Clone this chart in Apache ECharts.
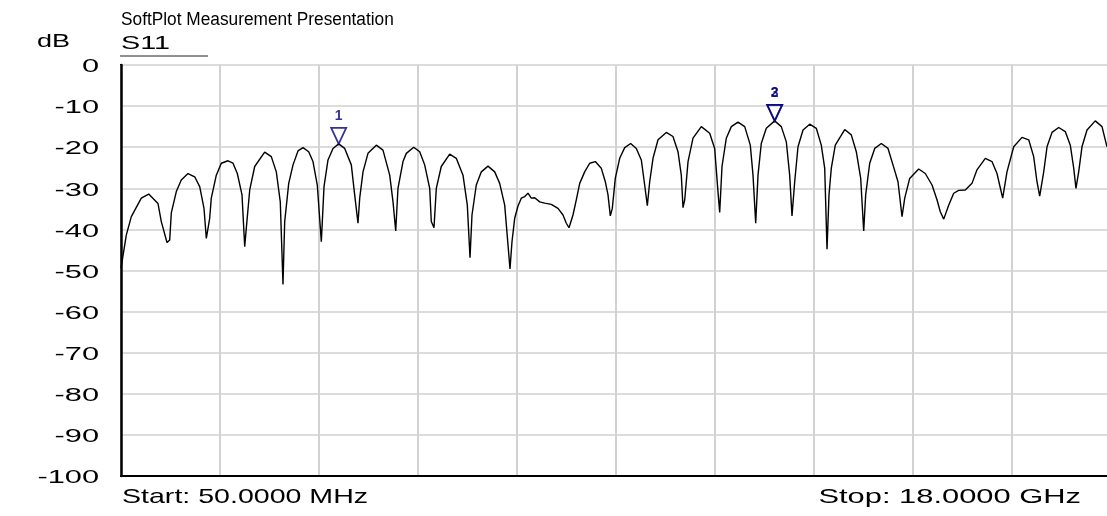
<!DOCTYPE html>
<html>
<head>
<meta charset="utf-8">
<title>S11</title>
<script src="https://cdn.jsdelivr.net/npm/echarts@6/dist/echarts.min.js"></script>
<style>
  html, body { margin: 0; padding: 0; background: #fff; }
  #main { width: 1107px; height: 516px; }
</style>
</head>
<body>
<div id="main"></div>
<script>
// sweep 50 MHz .. 18 GHz
var freqGHz = [
    0.050, 0.146, 0.237, 0.418, 0.552, 0.721, 0.781, 0.884, 0.933, 0.962,
    1.053, 1.143, 1.265, 1.386, 1.477, 1.555, 1.597, 1.658, 1.687, 1.778,
    1.869, 1.990, 2.081, 2.159, 2.244, 2.293, 2.322, 2.384, 2.474, 2.655,
    2.775, 2.866, 2.938, 2.987, 3.018, 3.091, 3.169, 3.259, 3.350, 3.453,
    3.531, 3.609, 3.682, 3.731, 3.803, 3.894, 3.997, 4.106, 4.226, 4.287,
    4.347, 4.378, 4.438, 4.528, 4.679, 4.800, 4.922, 4.982, 5.031, 5.072,
    5.163, 5.223, 5.357, 5.466, 5.556, 5.647, 5.676, 5.725, 5.767, 5.857,
    6.010, 6.129, 6.251, 6.329, 6.378, 6.414, 6.492, 6.583, 6.704, 6.826,
    6.916, 7.007, 7.103, 7.139, 7.188, 7.248, 7.308, 7.370, 7.429, 7.489,
    7.551, 7.642, 7.732, 7.852, 7.973, 8.064, 8.124, 8.173, 8.245, 8.305,
    8.367, 8.457, 8.548, 8.650, 8.758, 8.831, 8.880, 8.922, 8.958, 9.012,
    9.092, 9.183, 9.291, 9.393, 9.484, 9.545, 9.593, 9.636, 9.696, 9.787,
    9.937, 10.058, 10.149, 10.209, 10.240, 10.271, 10.331, 10.421, 10.572, 10.724,
    10.814, 10.874, 10.905, 10.947, 11.025, 11.116, 11.237, 11.359, 11.460, 11.509,
    11.558, 11.600, 11.659, 11.750, 11.902, 12.022, 12.113, 12.174, 12.216, 12.265,
    12.325, 12.416, 12.537, 12.657, 12.747, 12.809, 12.851, 12.887, 12.929, 13.001,
    13.172, 13.291, 13.382, 13.462, 13.516, 13.552, 13.625, 13.716, 13.835, 13.957,
    14.047, 14.138, 14.211, 14.260, 14.350, 14.513, 14.633, 14.755, 14.845, 14.905,
    14.967, 15.057, 15.148, 15.238, 15.358, 15.480, 15.570, 15.721, 15.842, 15.933,
    16.036, 16.114, 16.236, 16.386, 16.508, 16.598, 16.658, 16.707, 16.780, 16.840,
    16.930, 17.052, 17.171, 17.262, 17.324, 17.365, 17.414, 17.474, 17.565, 17.715,
    17.837, 17.927
];
var s11dB = [
    -49.4, -41.4, -36.9, -32.4, -31.4, -33.7, -38.1, -43.2, -42.6, -36.0,
    -30.8, -28.0, -26.4, -27.2, -29.6, -34.9, -42.2, -37.3, -32.4, -26.8,
    -23.9, -23.3, -23.9, -26.4, -31.6, -44.2, -39.7, -30.4, -24.7, -21.2,
    -22.3, -26.0, -33.3, -53.4, -38.1, -28.8, -24.3, -20.9, -20.1, -21.1,
    -23.5, -29.2, -43.0, -29.6, -23.1, -20.3, -19.2, -20.3, -24.3, -31.6,
    -38.5, -32.4, -26.0, -21.5, -19.5, -20.7, -26.8, -33.3, -40.4, -30.0,
    -23.5, -21.5, -20.0, -21.1, -24.3, -30.0, -38.1, -39.6, -30.0, -24.7,
    -21.7, -22.7, -26.8, -34.1, -46.9, -36.5, -29.2, -26.0, -24.6, -26.0,
    -28.8, -34.1, -49.6, -43.0, -37.3, -34.3, -32.4, -32.0, -31.2, -32.4,
    -32.3, -33.3, -33.6, -33.9, -34.9, -36.5, -38.5, -39.6, -36.5, -32.8,
    -28.8, -26.0, -23.9, -23.5, -25.1, -28.4, -31.6, -36.7, -34.9, -27.6,
    -22.7, -20.1, -19.1, -20.3, -23.1, -29.2, -34.2, -28.4, -22.7, -18.2,
    -16.4, -17.4, -21.1, -26.8, -34.7, -32.8, -23.5, -17.8, -15.0, -16.6,
    -20.3, -30.8, -35.9, -24.7, -17.8, -15.0, -13.9, -15.0, -19.5, -26.8,
    -38.5, -26.8, -19.1, -15.4, -13.6, -15.0, -18.7, -26.8, -36.7, -28.4,
    -19.9, -15.8, -14.4, -15.4, -19.5, -25.1, -44.8, -31.6, -25.1, -19.5,
    -15.7, -17.0, -21.1, -27.6, -40.4, -31.6, -23.9, -20.3, -19.1, -20.3,
    -24.3, -28.4, -36.9, -32.4, -27.6, -25.3, -26.4, -29.2, -32.8, -35.7,
    -37.5, -34.1, -31.2, -30.5, -30.4, -28.8, -25.5, -22.7, -23.5, -26.4,
    -32.4, -26.0, -19.9, -17.6, -18.2, -22.3, -28.4, -31.9, -26.0, -19.9,
    -16.4, -15.2, -16.2, -19.5, -25.1, -30.0, -26.0, -19.9, -15.8, -13.6,
    -15.0, -19.9
];
var markerNames = ['1', '2', '3'];
var markerFreq = [3.997, 11.902, 11.902];
var markerDb = [-19.2, -13.6, -13.6];
var yTicks = [0, -10, -20, -30, -40, -50, -60, -70, -80, -90, -100];

var startLabel = 'Start: 50.0000 MHz';
var stopLabel = 'Stop: 18.0000 GHz';

var FONT = '"Liberation Sans", Arial, sans-serif';
var NAVY = '#00007a';

var chart = echarts.init(document.getElementById('main'), null, {renderer: 'canvas'});

var trace = freqGHz.map(function(f, i) { return [f, s11dB[i]]; });
var markers = markerFreq.map(function(f, i) { return {name: markerNames[i], value: [f, markerDb[i]]}; });

chart.setOption({
    animation: false,
    backgroundColor: '#fff',
    grid: {
        left: 121, top: 65, width: 990, bottom: 40,
        outerBoundsMode: 'none',
        containLabel: false,
        show: true,
        borderColor: '#000',
        borderWidth: 2,
        backgroundColor: 'transparent'
    },
    xAxis: {
        type: 'value',
        min: 0.05,
        max: 18,
        interval: 1.795,
        axisLine: {show: true, onZero: false, lineStyle: {color: '#000', width: 2}},
        axisTick: {show: false},
        axisLabel: {show: false},
        splitLine: {lineStyle: {color: '#d2d2d2', width: 2}}
    },
    yAxis: {
        type: 'value',
        min: -100,
        max: 0,
        interval: 10,
        axisLine: {show: true, lineStyle: {color: '#000', width: 2.5}},
        axisTick: {show: false},
        axisLabel: {show: false},
        splitLine: {lineStyle: {color: '#dcdcdc', width: 2}}
    },
    series: [{
        name: 'S11',
        type: 'line',
        data: trace,
        showSymbol: false,
        symbol: 'none',
        lineStyle: {color: '#000', width: 1.4},
        z: 3
    }, {
        name: 'markers',
        type: 'scatter',
        data: markers,
        symbol: 'path://M0,0 L16,0 L8,16 Z',
        symbolSize: [15, 16],
        symbolOffset: [0, -8],
        itemStyle: {color: 'rgba(0,0,0,0)', borderColor: NAVY, borderWidth: 1.8},
        label: {
            show: true,
            position: 'top',
            distance: 4,
            formatter: '{b}',
            color: NAVY,
            fontFamily: FONT,
            fontWeight: 'bold',
            fontSize: 14
        },
        z: 4
    }]
});

// tick labels and captions, stretched like the instrument font
function wideText(txt, x, y, size, sx, align) {
    return {
        type: 'text', x: x, y: y, scaleX: sx, silent: true,
        style: {text: txt, font: size + 'px ' + FONT, fill: '#000', align: align || 'left', verticalAlign: 'middle'}
    };
}

var g = yTicks.map(function(v) {
    var py = chart.convertToPixel({yAxisIndex: 0}, v);
    return wideText(String(v), 99, py + 2, 19, 1.62, 'right');
});
g.push(wideText('SoftPlot Measurement Presentation', 121, 20, 18, 0.96));
g.push(wideText('S11', 121, 44, 18, 1.6));
g.push(wideText('dB', 37, 42, 18, 1.5));
g.push({type: 'line', silent: true, shape: {x1: 120, y1: 56, x2: 208, y2: 56}, style: {stroke: '#222', lineWidth: 1}});
g.push(wideText(startLabel, 122, 497, 21, 1.36));
g.push(wideText(stopLabel, 1081, 497, 21, 1.47, 'right'));

chart.setOption({graphic: g});
</script>
</body>
</html>
